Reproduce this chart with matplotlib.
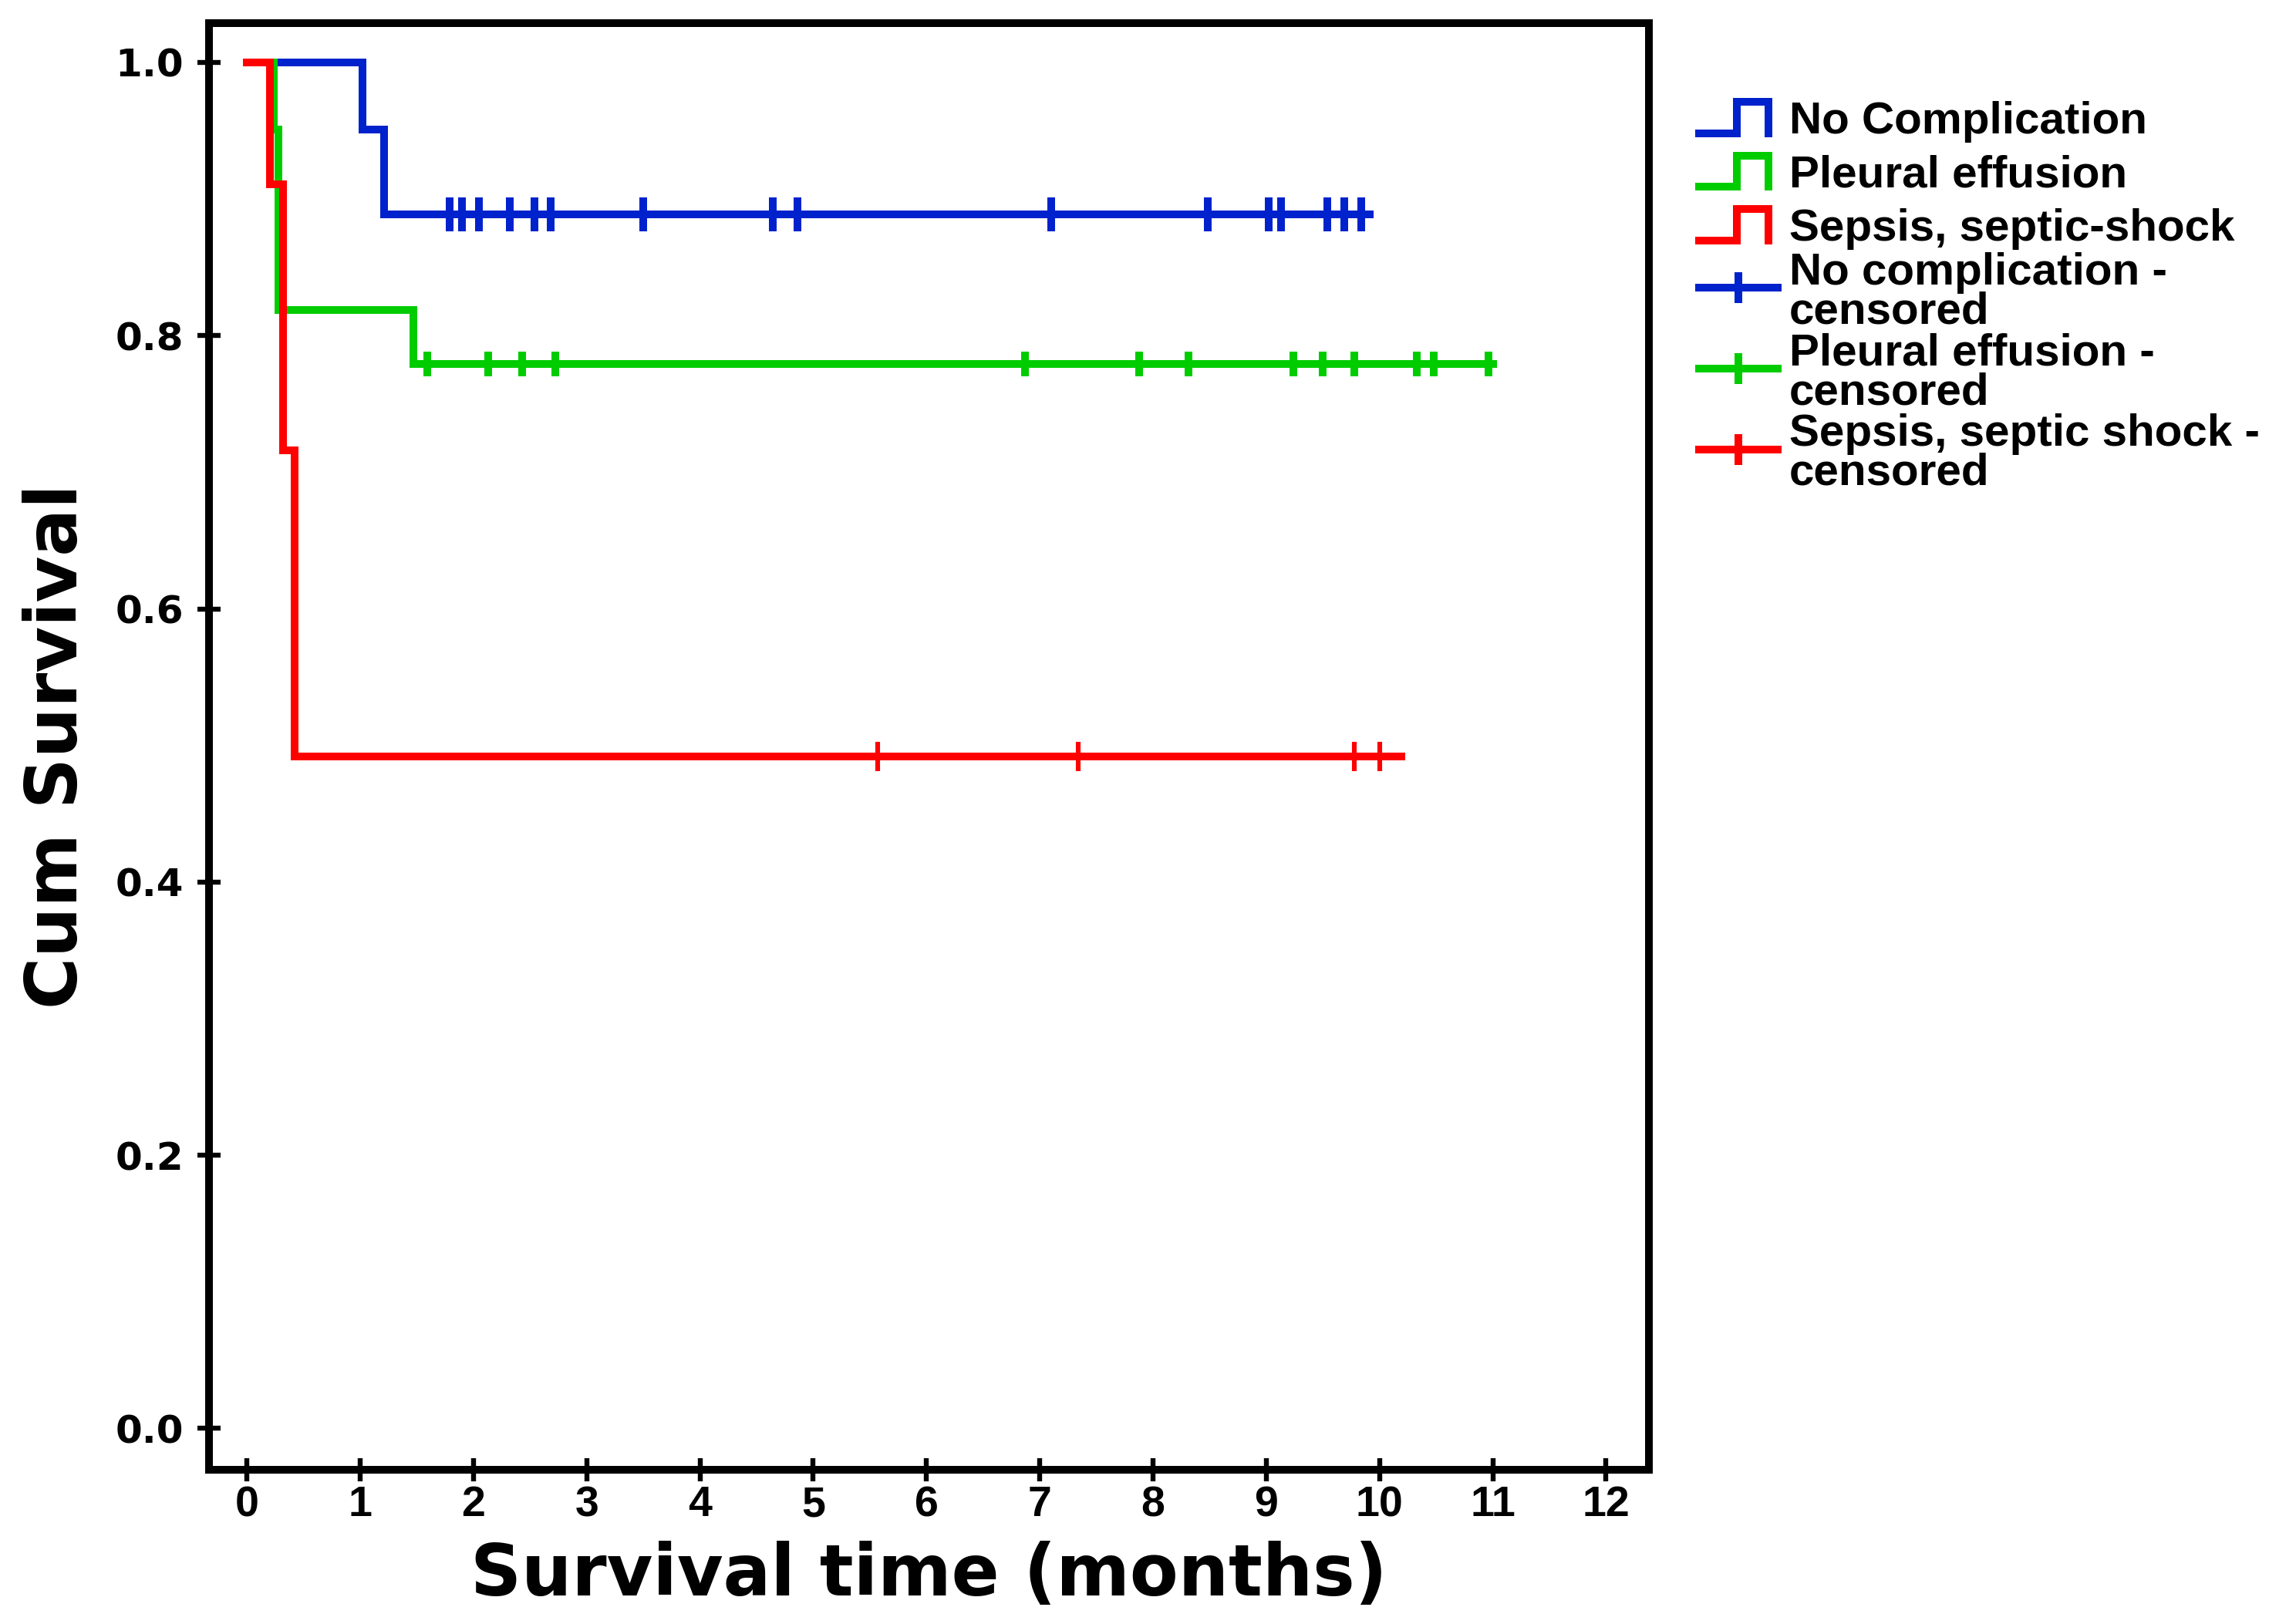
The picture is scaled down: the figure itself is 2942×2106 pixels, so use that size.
import numpy as np
import matplotlib
matplotlib.use('Agg')
import matplotlib.pyplot as plt
from matplotlib.lines import Line2D
from matplotlib.legend_handler import HandlerBase

#==============================================================================
#DATA
#==============================================================================

group_names = ['No Complication', 'Pleural effusion', 'Sepsis, septic-shock']
censor_names = ['No complication -\ncensored', 'Pleural effusion -\ncensored',
                'Sepsis, septic shock -\ncensored']

# event times (months) and survival after each step
nc_times = [0.0, 1.02, 1.21]
nc_surv = [1.0, 0.951, 0.889]
nc_end = 9.91
nc_censor = [1.79, 1.90, 2.05, 2.32, 2.54, 2.68, 3.50, 4.64, 4.86,
             7.10, 8.48, 9.02, 9.13, 9.54, 9.69, 9.84]

pe_times = [0.0, 0.24, 0.28, 1.47]
pe_surv = [1.0, 0.951, 0.819, 0.779]
pe_end = 11.0
pe_censor = [1.59, 2.13, 2.43, 2.72, 6.87, 7.88, 8.31, 9.24, 9.50, 9.78,
             10.33, 10.48, 10.96]

ss_times = [0.0, 0.20, 0.32, 0.42]
ss_surv = [1.0, 0.911, 0.716, 0.492]
ss_end = 10.19
ss_censor = [5.57, 7.34, 9.78, 10.00]

x_ticks = list(range(0, 13))
y_ticks = [0.0, 0.2, 0.4, 0.6, 0.8, 1.0]
y_ticklabels = ['0.0', '0.2', '0.4', '0.6', '0.8', '1.0']

#==============================================================================
#SETTINGS
#==============================================================================

colors = ['#0022cc', '#00cc00', '#ff0000']
lw = 3.6
mark_size = [15.5, 11.5, 13.7]
mark_width = [3.6, 3.6, 2.2]

label_font = dict(family='DejaVu Sans', weight='bold', size=33)
leg_size = 21


class StepHandler(HandlerBase):
    # little "_|~|" icon used by SPSS for the survival functions
    def create_artists(self, legend, orig_handle, xdescent, ydescent,
                       width, height, fontsize, trans):
        x0 = -xdescent
        top = 0.7*fontsize
        xs = [x0, x0 + 0.48*width, x0 + 0.48*width, x0 + 0.88*width, x0 + 0.88*width]
        ys = [0, 0, top, top, 0]
        line = Line2D(xs, ys, color=orig_handle.get_color(), lw=orig_handle.get_linewidth(),
                      solid_joinstyle='miter', solid_capstyle='projecting')
        line.set_transform(trans)
        return [line]


def censor_y(times, surv, ct):
    idx = np.searchsorted(times, ct, side='right') - 1
    return np.array(surv)[idx]

#==============================================================================
#PLOT
#==============================================================================

fig = plt.figure(figsize=(14.71, 10.53), dpi=200)
ax = fig.add_axes([0.0921, 0.0950, 0.6346, 0.8908])

groups = [(nc_times, nc_surv, nc_end, nc_censor),
          (pe_times, pe_surv, pe_end, pe_censor),
          (ss_times, ss_surv, ss_end, ss_censor)]

for i, (t, s, end, cens) in enumerate(groups):
    xs = list(t) + [end]
    ys = list(s) + [s[-1]]
    ax.step(xs, ys, where='post', color=colors[i], lw=lw,
            solid_joinstyle='miter', zorder=2+i)
    ax.plot(cens, censor_y(t, s, cens), ls='none', marker='|', color=colors[i],
            ms=mark_size[i], mew=mark_width[i], zorder=5+i)

ax.set_xlim(-0.335, 12.378)
ax.set_ylim(-0.0302, 1.0288)
ax.set_xticks(x_ticks)
ax.set_xticklabels([str(v) for v in x_ticks], family='Liberation Sans',
                   weight='bold', size=20)
ax.set_yticks(y_ticks)
ax.set_yticklabels(y_ticklabels, family='DejaVu Sans', weight='bold', size=18)

for sp in ax.spines.values():
    sp.set_linewidth(3.6)
ax.tick_params(axis='both', direction='inout', length=10.8, width=2.3)
ax.tick_params(axis='x', pad=2)
ax.tick_params(axis='y', pad=6.5)

ax.set_xlabel('Survival time (months)', fontdict=label_font, labelpad=7)
ax.set_ylabel('Cum Survival', fontdict=label_font, labelpad=11)

#legend
step_handles = [Line2D([], [], color=c, lw=lw) for c in colors]
cens_handles = [Line2D([], [], color=c, lw=lw, marker='|', ms=14.5, mew=3.6) for c in colors]
leg = fig.legend(step_handles + cens_handles, group_names + censor_names,
                 loc='upper left', bbox_to_anchor=(0.7488, 0.9434),
                 frameon=False, borderpad=0, borderaxespad=0,
                 handlelength=1.75, handleheight=1.45, handletextpad=0.25,
                 labelspacing=0.0, numpoints=1,
                 prop=dict(family='Liberation Sans', weight='bold', size=leg_size),
                 handler_map={h: StepHandler() for h in step_handles})
for txt in leg.get_texts():
    txt.set_linespacing(0.92)

fig.savefig('out.png', dpi=200)
